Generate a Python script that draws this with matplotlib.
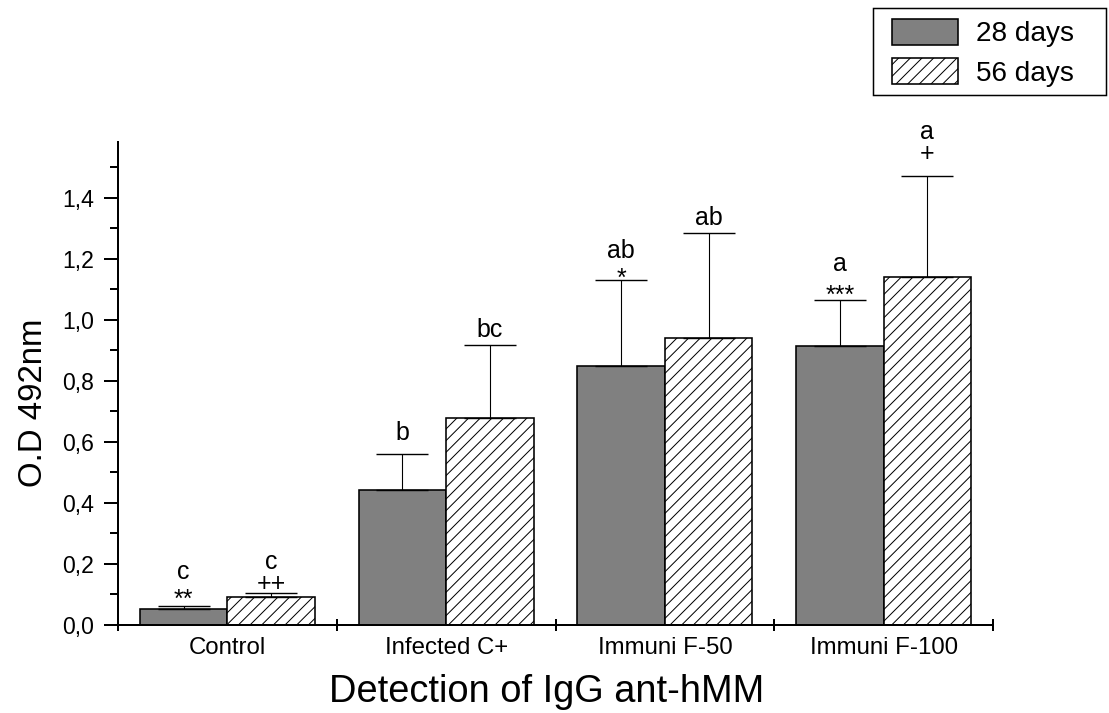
import matplotlib
matplotlib.use("Agg")
import matplotlib.pyplot as plt
import numpy as np
from matplotlib.ticker import FixedLocator, FuncFormatter, MultipleLocator, NullFormatter
from matplotlib.patches import Patch, Rectangle

DPI = 140
PX = 72 / DPI  # one pixel expressed in points

groups = ["Control", "Infected C+", "Immuni F-50", "Immuni F-100"]
series = ["28 days", "56 days"]

od_28 = [0.052, 0.442, 0.848, 0.915]
err_28 = [0.010, 0.118, 0.283, 0.150]
od_56 = [0.093, 0.679, 0.940, 1.139]
err_56 = [0.011, 0.239, 0.344, 0.332]

letters_28 = ["c", "b", "ab", "a"]
marks_28 = ["**", "", "*", "***"]
letters_56 = ["c", "bc", "ab", "a"]
marks_56 = ["++", "", "", "+"]

# baseline offsets of the annotations above each error cap (pixels)
letter_off_28 = [27, 14, 22, 29]
mark_off_28 = [-1, 0, -6, -3]
letter_off_56 = [24, 8, 8, 37]
mark_off_56 = [2, 0, 0, 15]

plt.rcParams["font.family"] = ["Liberation Sans", "DejaVu Sans"]
plt.rcParams["hatch.linewidth"] = 1.0 * PX
plt.rcParams["hatch.color"] = "black"

W, H = 1109, 713
fig = plt.figure(figsize=(W / DPI, H / DPI), dpi=DPI)
ax = fig.add_axes([118 / W, (H - 625) / H, 875 / W, (625 - 142) / H])

x = np.arange(1, len(groups) + 1)
bw = 0.4
edge_lw = 1.6 * PX
hatch = "////"

ax.bar(x - bw / 2, od_28, width=bw, color="#808080", edgecolor="black",
       linewidth=edge_lw, zorder=2)
ax.bar(x + bw / 2, od_56, width=bw, color="white", edgecolor="black",
       linewidth=edge_lw, hatch=hatch, zorder=2)

for xs, vals, errs in ((x - bw / 2, od_28, err_28), (x + bw / 2, od_56, err_56)):
    ax.errorbar(xs, vals, yerr=[np.zeros(len(vals)), errs], fmt="none",
                ecolor="black", elinewidth=1.1 * PX, capsize=26 * PX,
                capthick=1.4 * PX, zorder=3)

annot_size = 25 * PX


def annotate(xs, vals, errs, texts, offsets):
    for xi, v, e, t, off in zip(xs, vals, errs, texts, offsets):
        if not t:
            continue
        ax.annotate(t, xy=(xi, v + e), xytext=(0, off * PX),
                    textcoords="offset points", ha="center", va="baseline",
                    fontsize=annot_size, zorder=4)


annotate(x - bw / 2, od_28, err_28, letters_28, letter_off_28)
annotate(x - bw / 2, od_28, err_28, marks_28, mark_off_28)
annotate(x + bw / 2, od_56, err_56, letters_56, letter_off_56)
annotate(x + bw / 2, od_56, err_56, marks_56, mark_off_56)

ax.set_xlim(0.5, len(groups) + 0.5)
ax.set_ylim(0, 1.583)

for side in ("top", "right"):
    ax.spines[side].set_visible(False)
for side in ("left", "bottom"):
    ax.spines[side].set_linewidth(2.0 * PX)

# x axis: ticks between the groups, labels under the groups
ax.xaxis.set_major_locator(FixedLocator(np.arange(0.5, len(groups) + 1, 1.0)))
ax.xaxis.set_major_formatter(NullFormatter())
ax.xaxis.set_minor_locator(FixedLocator(x))
ax.set_xticklabels(groups, minor=True)
ax.tick_params(axis="x", which="major", direction="inout", length=13 * PX,
               width=2.0 * PX)
ax.tick_params(axis="x", which="minor", length=0, pad=12 * PX,
               labelsize=24 * PX)

# y axis
ax.yaxis.set_major_locator(MultipleLocator(0.2))
ax.yaxis.set_minor_locator(MultipleLocator(0.1))
ax.yaxis.set_major_formatter(FuncFormatter(lambda v, p: f"{v:.1f}".replace(".", ",")))
ax.tick_params(axis="y", which="major", direction="out", length=14 * PX,
               width=2.0 * PX, pad=10 * PX, labelsize=23 * PX)
ax.tick_params(axis="y", which="minor", direction="out", length=8 * PX,
               width=2.0 * PX)

ax.set_xlabel("Detection of IgG ant-hMM", fontsize=38 * PX)
ax.xaxis.set_label_coords(0.49, -0.102)
ax.set_ylabel("O.D 492nm", fontsize=33 * PX)
ax.yaxis.set_label_coords(-0.079, 0.46)

# legend box
fig.patches.append(Rectangle((873 / W, 1 - 95 / H), (1106 - 873) / W, (95 - 8) / H,
                             transform=fig.transFigure, fill=False,
                             edgecolor="black", linewidth=1.5 * PX))
handles = [Patch(facecolor="#808080", edgecolor="black", linewidth=edge_lw),
           Patch(facecolor="white", edgecolor="black", linewidth=edge_lw, hatch=hatch)]
leg_fs = 28
fig.legend(handles, series, loc="upper left",
           bbox_to_anchor=(892 / W, 1 - 19 / H), frameon=False,
           fontsize=leg_fs * PX, borderpad=0, borderaxespad=0,
           handlelength=66 / leg_fs, handleheight=29 / leg_fs,
           labelspacing=11 / leg_fs, handletextpad=18 / leg_fs)

fig.savefig("out.png", dpi=DPI)
